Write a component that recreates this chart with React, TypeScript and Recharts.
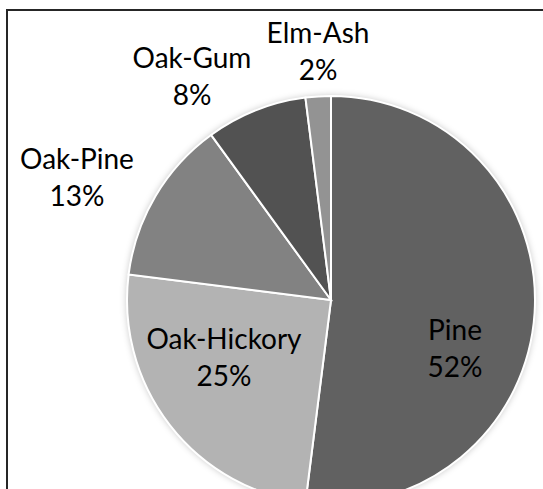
import { Pie, PieChart, Cell } from "recharts";

const names = ["Pine", "Oak-Hickory", "Oak-Pine", "Oak-Gum", "Elm-Ash"];
const shares = [52, 25, 13, 8, 2];
const fills = ["#616161", "#b3b3b3", "#828282", "#525252", "#939393"];
// label centre offsets from the pie centre
const labelOffsets = [
  [124, 46],
  [-107, 55],
  [-254, -125],
  [-139, -226],
  [-13, -251],
];

const data = names.map((name, i) => ({ name, value: shares[i] }));

const W = 543;
const H = 489;

const renderLabel = (props: any) => {
  const { cx, cy, index, name, value } = props;
  const [dx, dy] = labelOffsets[index];
  const x = cx + dx;
  const y = cy + dy;
  return (
    <text
      x={x}
      y={y}
      textAnchor="middle"
      fill="#000"
      fontFamily="Lato"
      fontSize={28}
    >
      <tspan x={x} dy={-6}>{name}</tspan>
      <tspan x={x} dy={37}>{value}%</tspan>
    </text>
  );
};

const App = () => {
  return (
    <div style={{ position: "fixed", left: 0, top: 0, width: W, height: H, background: "#fff", overflow: "hidden" }}>
      <div
        style={{
          position: "absolute",
          left: 6,
          top: 9,
          width: W,
          height: H,
          border: "2px solid #262626",
          boxSizing: "border-box",
        }}
      />
      <div style={{ position: "absolute", left: 0, top: 0 }}>
        <PieChart width={W} height={H} margin={{ top: 0, right: 0, bottom: 0, left: 0 }}>
          <defs>
            <filter id="pieShadow" x="-20%" y="-20%" width="140%" height="140%">
              <feGaussianBlur stdDeviation="3" />
            </filter>
          </defs>
          <Pie
            data={[{ name: "shadow", value: 1 }]}
            dataKey="value"
            cx={331}
            cy={300}
            outerRadius={205}
            startAngle={90}
            endAngle={-270}
            fill="#000"
            fillOpacity={0.2}
            stroke="none"
            filter="url(#pieShadow)"
            isAnimationActive={false}
            label={false}
          />
          <Pie
            data={data}
            dataKey="value"
            nameKey="name"
            cx={331}
            cy={300}
            outerRadius={204}
            startAngle={90}
            endAngle={-270}
            stroke="#fff"
            strokeWidth={2}
            labelLine={false}
            label={renderLabel}
            isAnimationActive={false}
          >
            {data.map((d, i) => (
              <Cell key={d.name} fill={fills[i]} />
            ))}
          </Pie>
        </PieChart>
      </div>
    </div>
  );
};

export default App;
